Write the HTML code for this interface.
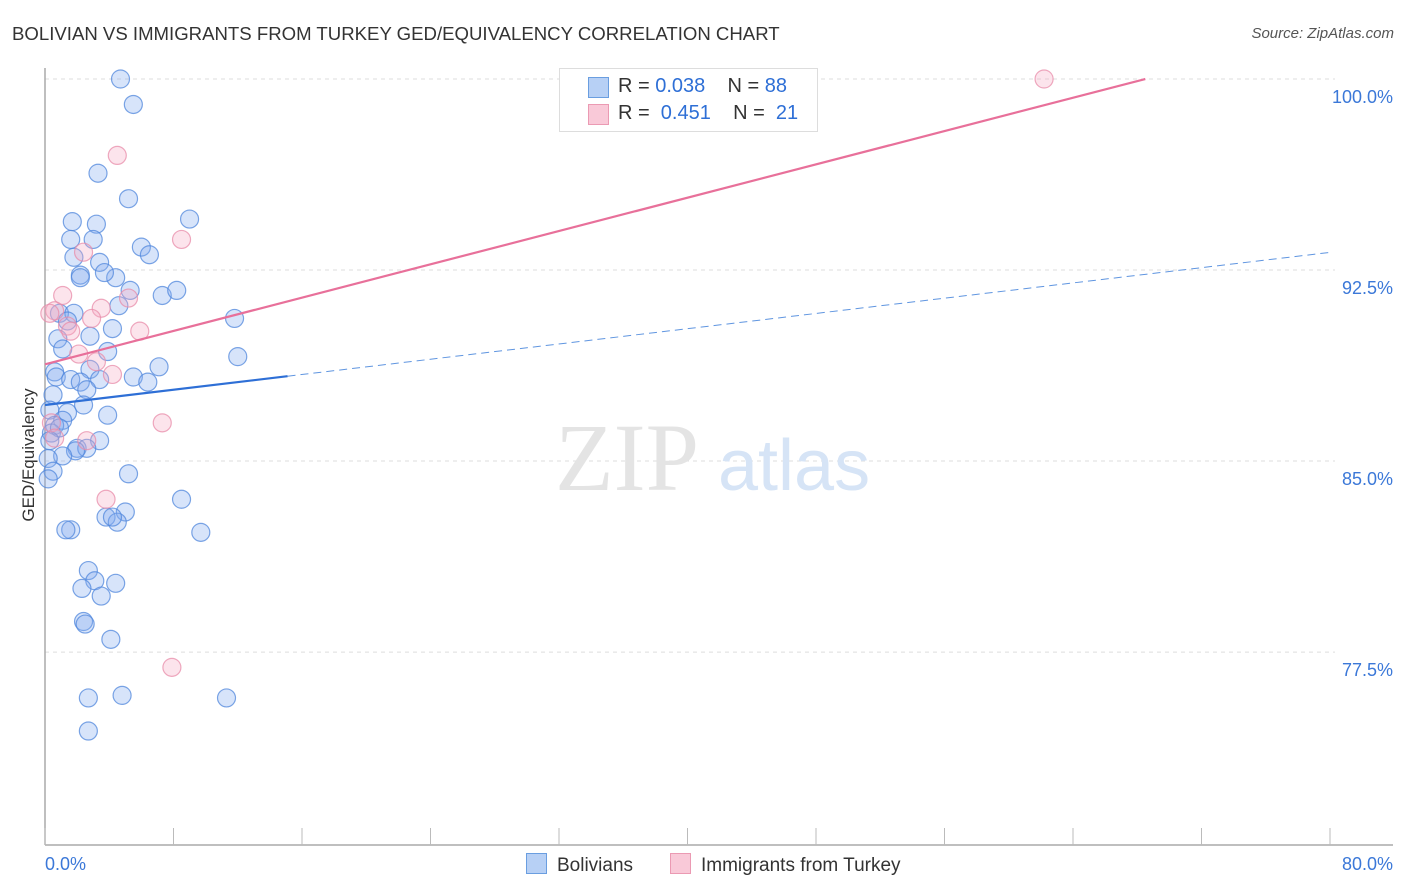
<!DOCTYPE html>
<html><head><meta charset="utf-8"><style>
body{margin:0;background:#fff;font-family:"Liberation Sans",sans-serif;}
#wrap{position:relative;width:1406px;height:892px;overflow:hidden;}
.t{position:absolute;white-space:nowrap;}
</style></head><body>
<div id="wrap">
<div class="t" style="left:12px;top:23px;font-size:18.6px;color:#333;">BOLIVIAN VS IMMIGRANTS FROM TURKEY GED/EQUIVALENCY CORRELATION CHART</div>
<div class="t" style="right:12px;top:25px;font-size:15px;color:#555;font-style:italic;">Source: ZipAtlas.com</div>
<svg id="svg" width="1406" height="892" style="position:absolute;left:0;top:0"></svg>
</div>
<script>
const yTicks=[100,92.5,85,77.5];
const yTickLabels=["100.0%","92.5%","85.0%","77.5%"];
const xTickLabels=["0.0%","80.0%"];
const blueX=[4.7,5.5,3.3,5.2,1.7,3.2,9.0,1.6,3.0,6.0,6.5,1.8,3.4,2.2,2.2,4.4,3.7,5.3,7.3,8.2,4.6,11.8,0.9,1.8,1.4,4.2,0.8,2.8,1.1,3.9,12.0,7.1,0.6,0.7,2.8,5.5,6.4,1.6,2.2,3.4,2.6,0.5,2.4,0.3,1.4,3.9,1.1,0.6,0.4,3.4,2.0,2.6,1.9,1.1,0.2,0.5,5.2,0.2,8.5,3.8,5.0,4.5,4.2,1.6,1.3,9.7,2.7,3.1,4.4,2.3,3.5,2.4,2.5,4.1,2.7,4.8,11.3,2.7,0.9,0.3];
const blueY=[100.0,99.0,96.3,95.3,94.4,94.3,94.5,93.7,93.7,93.4,93.1,93.0,92.8,92.3,92.2,92.2,92.4,91.7,91.5,91.7,91.1,90.6,90.8,90.8,90.5,90.2,89.8,89.9,89.4,89.3,89.1,88.7,88.5,88.3,88.6,88.3,88.1,88.2,88.1,88.2,87.8,87.6,87.2,87.0,86.9,86.8,86.6,86.4,86.1,85.8,85.5,85.5,85.4,85.2,85.1,84.6,84.5,84.3,83.5,82.8,83.0,82.6,82.8,82.3,82.3,82.2,80.7,80.3,80.2,80.0,79.7,78.7,78.6,78.0,75.7,75.8,75.7,74.4,86.3,85.8];
const pinkX=[62.2,4.5,8.5,2.4,1.1,5.2,0.6,3.5,1.4,2.9,5.9,1.6,2.1,3.2,4.2,0.4,2.6,7.3,3.8,7.9,0.3,0.6];
const pinkY=[100.0,97.0,93.7,93.2,91.5,91.4,90.9,91.0,90.3,90.6,90.1,90.1,89.2,88.9,88.4,86.5,85.8,86.5,83.5,76.9,90.8,85.9];
const blueTrend=[87.2,0.0749];
const blueSolidEnd=15.1;
const pinkTrend=[88.8,0.1635];
const X=v=>45+v*(1285/80), Y=v=>79+(100-v)*25.47;
const svg=document.getElementById('svg');const NS='http://www.w3.org/2000/svg';
function mk(t,a){const e=document.createElementNS(NS,t);for(const k in a)e.setAttribute(k,a[k]);svg.appendChild(e);return e;}
yTicks.forEach((v,i)=>{
 const g=mk('line',{x1:45,x2:1335,y1:Y(v),y2:Y(v),stroke:'#ddd','stroke-dasharray':'4,4'});
 
 
 const t=mk('text',{x:1393,y:Y(v)+24,'text-anchor':'end','font-size':18,fill:'#3b78d8','font-family':'Liberation Sans, sans-serif'});
 t.textContent=yTickLabels[i];
 
 
});
let w=mk('text',{x:555,y:490,'font-size':96,fill:'#e4e4e4','font-family':'Liberation Serif, serif'});w.textContent='ZIP';


w=mk('text',{x:718,y:490,'font-size':72,fill:'#d6e4f6','font-family':'Liberation Sans, sans-serif'});w.textContent='atlas';


let a=mk('line',{x1:45,x2:45,y1:68,y2:845,stroke:'#aaa','stroke-width':1.5});


a=mk('line',{x1:45,x2:1393,y1:845,y2:845,stroke:'#aaa','stroke-width':1.5});


for(let i=0;i<=10;i++){const tk=mk('line',{x1:X(i*8),x2:X(i*8),y1:828,y2:845,stroke:'#bbb'});
 
 }
[[0,'start',45],[1,'end',1393]].forEach(([i,an,x])=>{const t=mk('text',{x:x,y:870,'text-anchor':an,'font-size':18,fill:'#3b78d8','font-family':'Liberation Sans, sans-serif'});t.textContent=xTickLabels[i];
 
 });
let yt=mk('text',{x:0,y:0,'font-size':17,fill:'#333',transform:'translate(34,455) rotate(-90)','text-anchor':'middle','font-family':'Liberation Sans, sans-serif'});yt.textContent='GED/Equivalency';


blueX.forEach((x,i)=>{const c=mk('circle',{cx:X(x),cy:Y(blueY[i]),r:9,fill:'rgba(130,172,238,0.32)',stroke:'rgba(80,135,220,0.75)','stroke-width':1.2});
 
 });
pinkX.forEach((x,i)=>{const c=mk('circle',{cx:X(x),cy:Y(pinkY[i]),r:9,fill:'rgba(245,170,195,0.32)',stroke:'rgba(232,140,170,0.75)','stroke-width':1.2});
 
 });
let l=mk('line',{x1:X(0),y1:Y(blueTrend[0]),x2:X(blueSolidEnd),y2:Y(blueTrend[0]+blueTrend[1]*blueSolidEnd),stroke:'#2e6fd6','stroke-width':2.2});


l=mk('line',{x1:X(blueSolidEnd),y1:Y(blueTrend[0]+blueTrend[1]*blueSolidEnd),x2:X(80),y2:Y(blueTrend[0]+blueTrend[1]*80),stroke:'#5f95e0','stroke-width':1,'stroke-dasharray':'8,5'});


const pEnd=(100-pinkTrend[0])/pinkTrend[1];
l=mk('line',{x1:X(0),y1:Y(pinkTrend[0]),x2:X(pEnd),y2:Y(100),stroke:'#e8709a','stroke-width':2.2});


</script>
<div class="t" style="left:559px;top:68px;width:257px;height:62px;border:1px solid #ddd;background:#fff;">
 <div style="position:absolute;left:28px;top:8px;width:19px;height:19px;background:#b7d0f5;border:1px solid #6a9ee0"></div>
 <div style="position:absolute;left:58px;top:6px;font-size:20px;color:#333">R = <span style="color:#2e6fd6">0.038</span>&nbsp;&nbsp;&nbsp; N = <span style="color:#2e6fd6">88</span></div>
 <div style="position:absolute;left:28px;top:35px;width:19px;height:19px;background:#f9c9d8;border:1px solid #eb9ab3"></div>
 <div style="position:absolute;left:58px;top:33px;font-size:20px;color:#333">R = &nbsp;<span style="color:#2e6fd6">0.451</span>&nbsp;&nbsp;&nbsp; N = &nbsp;<span style="color:#2e6fd6">21</span></div>
</div>
<div class="t" style="left:526px;top:853px;font-size:19px;color:#333"><span style="display:inline-block;width:19px;height:19px;background:#b7d0f5;border:1px solid #6a9ee0;vertical-align:-3px;margin-right:10px"></span>Bolivians</div>
<div class="t" style="left:670px;top:853px;font-size:19px;color:#333"><span style="display:inline-block;width:19px;height:19px;background:#f9c9d8;border:1px solid #eb9ab3;vertical-align:-3px;margin-right:10px"></span>Immigrants from Turkey</div>
</body></html>
